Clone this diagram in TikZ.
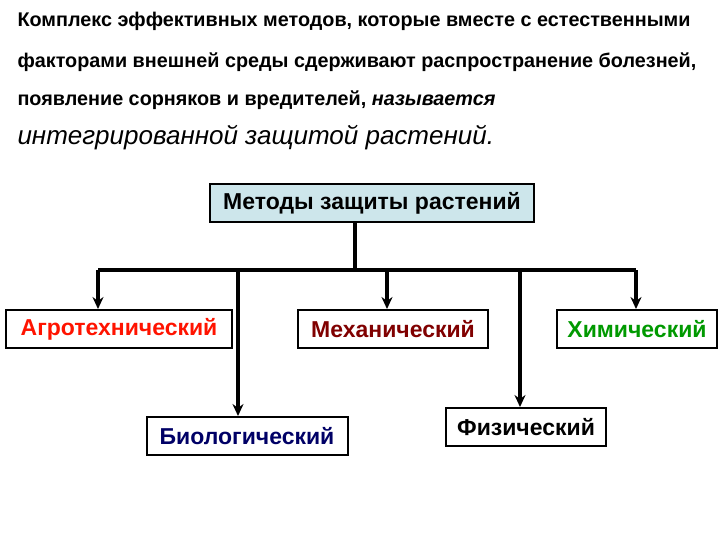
\documentclass[tikz,border=0pt]{standalone}
\usepackage{fontspec}
\setmainfont{Liberation Sans}
\usetikzlibrary{arrows.meta}
\begin{document}
\begin{tikzpicture}[x=1pt,y=-1pt,
 box/.style={draw,line width=2pt,minimum height=38pt,font=\bfseries\fontsize{23}{26}\selectfont,inner sep=2pt},
 arr/.style={line width=3.5pt,-{Stealth[length=12pt,width=11pt]}},
 ln/.style={line width=3.5pt},
 txt/.style={anchor=west,font=\bfseries\fontsize{19.8}{22}\selectfont}]
\useasboundingbox (0,0) rectangle (720,540);
\node[txt] (l1) at (14,21) {Комплекс эффективных методов, которые вместе с естественными};
\node[txt] (l2) at (14,62) {факторами внешней среды сдерживают распространение болезней,};
\node[txt] (l3) at (14,100) {появление сорняков и вредителей, \textit{называется}};
\node[anchor=west,font=\itshape\fontsize{26}{30}\selectfont] (l4) at (14,138) {интегрированной защитой растений.};
\definecolor{topfill}{RGB}{205,230,235}
\node[box,fill=topfill,minimum width=324pt] (top) at (372,203) {Методы защиты растений};
\node[box,minimum width=226pt,text=red!85!orange] (agr) at (119,329) {Агротехнический};
\node[box,minimum width=190pt,text=red!50!black] (mex) at (393,329) {Механический};
\node[box,minimum width=160pt,text=green!60!black] (him) at (637,329) {Химический};
\node[box,minimum width=201pt,text=blue!40!black] (bio) at (247,436) {Биологический};
\node[box,minimum width=160pt] (fiz) at (526,427) {Физический};
\coordinate (j) at (355,270);
\coordinate (hl) at (98,270);
\coordinate (hr) at (636,270);
\coordinate (b1) at (238,270);
\coordinate (m1) at (387,270);
\coordinate (f1) at (520,270);
\draw[ln] (top.south -| j) -- (j);
\draw[ln] (hl) -- (hr);
\draw[arr] (hl) -- (hl |- agr.north);
\draw[arr] (b1) -- (b1 |- bio.north);
\draw[arr] (m1) -- (m1 |- mex.north);
\draw[arr] (f1) -- (f1 |- fiz.north);
\draw[arr] (hr) -- (hr |- him.north);
\end{tikzpicture}
\end{document}
